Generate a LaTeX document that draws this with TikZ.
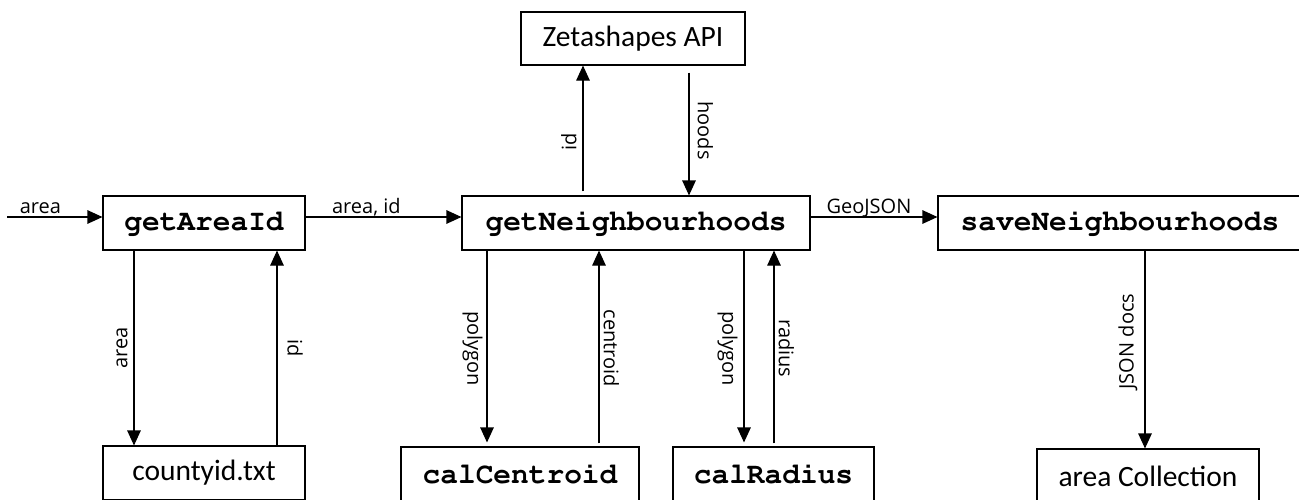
\documentclass[tikz,border=0pt]{standalone}
\usepackage[T1]{fontenc}
\usepackage{fontspec}
\usetikzlibrary{arrows.meta}
\newfontfamily\lblfont{Open Sans}
\newfontfamily\boxfont{Carlito}
% slab-serif Courier for the function names
\newcommand{\codefont}{\fontencoding{T1}\fontfamily{pcr}\fontseries{b}\selectfont}

\begin{document}
\begin{tikzpicture}[x=1pt,y=-1pt,
  box/.style={draw, line width=1.1pt, inner sep=0pt, minimum height=54pt},
  fn/.style={box, font=\codefont\fontsize{29.5}{32}\selectfont},
  plain/.style={box, font=\boxfont\fontsize{29.5}{32}\selectfont},
  arr/.style={line width=1.1pt, -{Triangle[length=15pt,width=13.5pt]}},
  lbl/.style={font=\lblfont\fontsize{20}{23}\selectfont, inner sep=0pt},
  lup/.style={lbl, rotate=90, anchor=south},
  ldn/.style={lbl, rotate=-90, anchor=south},
  ldnl/.style={lbl, rotate=-90, anchor=north},
]
\useasboundingbox (0,0) rectangle (1299,499);
\clip (0,0) rectangle (1299,499);

% process boxes
\node[fn, minimum width=202pt] (gA) at (204,223) {getAreaId};
\node[fn, minimum width=348pt] (gN) at (636,223) {getNeighbourhoods};
\node[fn, minimum width=364pt] (sN) at (1120,223) {saveNeighbourhoods};
\node[plain, minimum width=224pt, minimum height=53pt] (zeta) at (633,38.5) {Zetashapes API};
\node[plain, minimum width=202pt] (cty) at (204,473) {countyid.txt};
\node[fn, minimum width=238pt] (cC) at (520,474) {calCentroid};
\node[fn, minimum width=201pt] (cR) at (773.5,474) {calRadius};
\node[plain, minimum width=222pt] (aC) at (1148,476) {area Collection};

% reference lines for the connectors
\coordinate (hl) at (0,217);
\coordinate (src) at (7,217);
\coordinate (xa) at (134,0);
\coordinate (xb) at (277,0);
\coordinate (xc) at (583,0);
\coordinate (xd) at (689,0);
\coordinate (xe) at (487,0);
\coordinate (xf) at (599,0);
\coordinate (xg) at (744,0);
\coordinate (xh) at (774,0);
\coordinate (xi) at (1145,0);

% horizontal flow
\draw[arr] (src) -- (gA.west |- hl)
  node[lbl, pos=0.35, anchor=base, yshift=4pt] {area};
\draw[arr] (gA.east |- hl) -- (gN.west |- hl)
  node[lbl, pos=0.39, anchor=base, yshift=4pt] {area, id};
\draw[arr] (gN.east |- hl) -- (sN.west |- hl)
  node[lbl, pos=0.46, anchor=base, yshift=4pt] {GeoJSON};

% lookup of the area id
\draw[arr] (gA.south -| xa) -- (cty.north -| xa)
  node[lup, midway, inner ysep=6pt] {area};
\draw[arr] (cty.north -| xb) -- (gA.south -| xb)
  node[ldn, midway, inner ysep=10pt] {id};

% neighbourhood query
\draw[arr, shorten <=4pt] (gN.north -| xc) -- (zeta.south -| xc)
  node[lup, pos=0.41, inner ysep=6pt] {id};
\draw[arr, shorten <=7pt] (zeta.south -| xd) -- (gN.north -| xd)
  node[ldn, midway, inner ysep=8pt] {hoods};

% centroid and radius
\draw[arr, shorten >=4pt] (gN.south -| xe) -- (cC.north -| xe)
  node[ldnl, midway, inner ysep=4pt] {polygon};
\draw[arr, shorten <=3pt] (cC.north -| xf) -- (gN.south -| xf)
  node[ldn, midway, inner ysep=4pt] {centroid};
\draw[arr, shorten >=4pt] (gN.south -| xg) -- (cR.north -| xg)
  node[ldnl, midway, inner ysep=6pt] {polygon};
\draw[arr, shorten <=3pt] (cR.north -| xh) -- (gN.south -| xh)
  node[ldn, midway, inner ysep=4pt] {radius};

% storage
\draw[arr] (sN.south -| xi) -- (aC.north -| xi)
  node[lup, pos=0.46, inner ysep=7pt] {JSON docs};
\end{tikzpicture}
\end{document}
